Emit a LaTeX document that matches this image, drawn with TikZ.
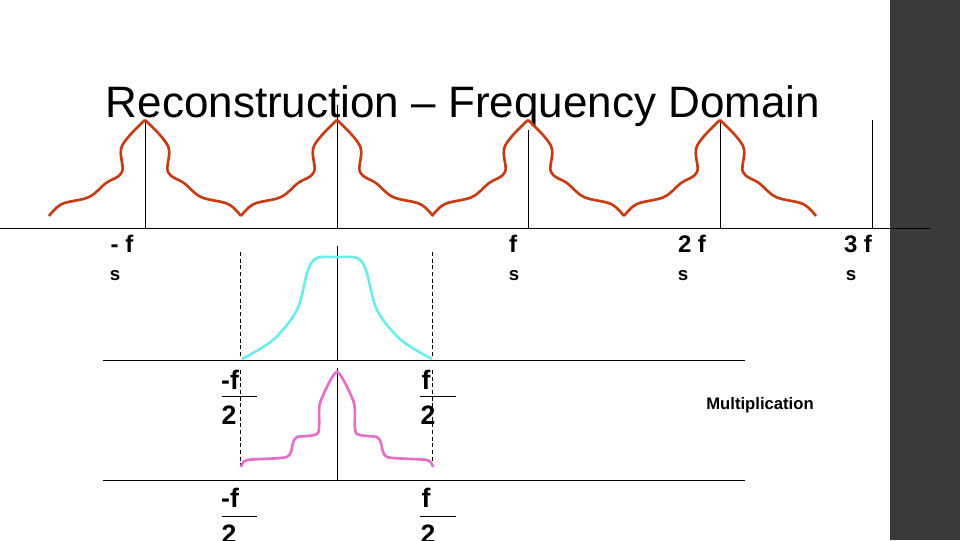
\documentclass[tikz,border=0pt]{standalone}
\usepackage{fontspec}
\setmainfont{Liberation Sans}
\begin{document}
\begin{tikzpicture}[x=0.75pt,y=-0.75pt,
  ax/.style={line width=0.6pt,black},
  dsh/.style={line width=0.6pt,dashed,dash pattern=on 3pt off 2pt},
  red/.style={line width=2pt,color={rgb,255:red,200;green,60;blue,20},line join=round},
  cyanc/.style={line width=2pt,color={rgb,255:red,110;green,235;blue,235}},
  pinkc/.style={line width=2pt,color={rgb,255:red,230;green,110;blue,200}},
  lab/.style={font=\bfseries\fontsize{18}{18}\selectfont,inner sep=0pt},
  fr/.style={font=\bfseries\fontsize{20}{20}\selectfont,inner sep=0pt}]
\useasboundingbox (0,0) rectangle (960,540);
\clip (0,0) rectangle (960,540);
\fill[color={rgb,255:red,58;green,58;blue,58}] (890,0) rectangle (960,540);
\node[inner sep=0pt,font=\fontsize{33}{33}\selectfont] (title) at (463,106) {Reconstruction -- Frequency Domain};
% top axis
\coordinate (a0) at (0,228); \coordinate (a1) at (930,228);
\draw[ax] (a0) -- (a1);
\foreach \x/\t in {145/120,337/105,528/130,720/120,872/120}{\draw[ax] (\x,\t) -- (\x,228);}
\foreach \p in {145,337,528,720}{
\draw[red] plot[smooth,tension=0.6] coordinates{(\p-96,216) (\p-83,204) (\p-56,197) (\p-39,183) (\p-23,172) (\p-23,146) (\p,120)};
\draw[red] plot[smooth,tension=0.6] coordinates{(\p,120) (\p+23,146) (\p+23,172) (\p+39,183) (\p+56,197) (\p+83,204) (\p+96,216)};}
\node[lab] (l1) at (122,244) {- f}; \node[lab,font=\bfseries\fontsize{14}{14}\selectfont] (s1) at (115,276) {s};
\node[lab] (l2) at (513,244) {f}; \node[lab,font=\bfseries\fontsize{14}{14}\selectfont] (s2) at (514,276) {s};
\node[lab] (l3) at (692,244) {2 f}; \node[lab,font=\bfseries\fontsize{14}{14}\selectfont] (s3) at (683,276) {s};
\node[lab] (l4) at (858,244) {3 f}; \node[lab,font=\bfseries\fontsize{14}{14}\selectfont] (s4) at (851,276) {s};
% middle
\draw[ax] (103,360) -- (745,360);
\draw[ax] (337,246) -- (337,360);
\draw[dsh] (240,252) -- (240,358); \draw[dsh] (432,252) -- (432,358);
\draw[cyanc] plot[smooth,tension=0.5] coordinates{(242,359) (273,340) (297,310) (308,270) (317,258) (337,257) (357,258) (366,270) (377,310) (401,340) (432,359)};
\node[fr] at (230,380) {-f}; \draw[ax] (222,396) -- (257,396); \node[fr] at (229,415) {2};
\node[fr] at (426,380) {f}; \draw[ax] (420,396) -- (456,396); \node[fr] at (428,415) {2};
\node[inner sep=0pt,font=\bfseries\fontsize{12.5}{12.5}\selectfont] (mul) at (760,405) {Multiplication};
% bottom
\draw[ax] (103,480) -- (745,480);
\draw[ax] (337,368) -- (337,480);
\draw[dsh] (240,370) -- (240,468); \draw[dsh] (432,370) -- (432,468);
\draw[pinkc] plot[smooth,tension=0.4] coordinates{(241,467) (247,460) (287,457) (293,443) (297,437) (318,433) (320,403) (337,372) (354,403) (356,433) (377,437) (381,443) (387,457) (427,460) (433,467)};
\node[fr] at (230,498) {-f}; \draw[ax] (222,516) -- (257,516); \node[fr] at (229,534) {2};
\node[fr] at (426,498) {f}; \draw[ax] (420,516) -- (456,516); \node[fr] at (428,534) {2};
\end{tikzpicture}
\end{document}
